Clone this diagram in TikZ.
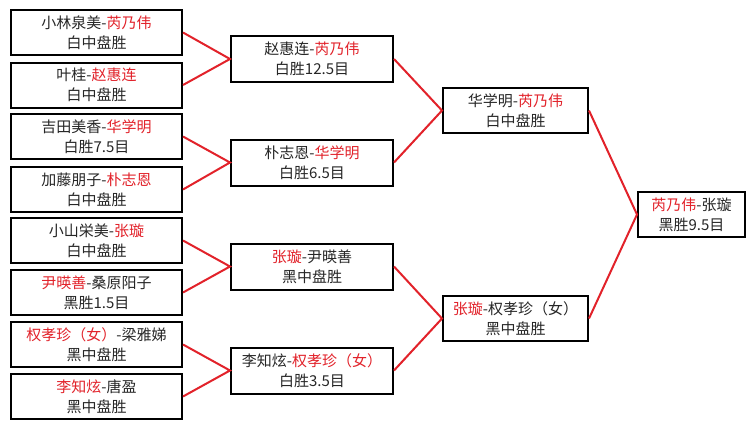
\documentclass[tikz,border=0pt]{standalone}
\usepackage{fontspec}
\setmainfont{Noto Sans CJK SC}
\definecolor{mred}{RGB}{226,34,42}
\newcommand{\rt}[1]{\textcolor{mred}{#1}}
\tikzset{
  pbox/.style={draw=black, line width=2pt, fill=white, inner sep=0pt,
    align=center, font=\fontsize{15pt}{20pt}\selectfont, text=black!85},
  r1box/.style={pbox, minimum width=171pt, minimum height=45pt},
  r2box/.style={pbox, minimum width=162pt, minimum height=46pt},
  r3box/.style={pbox, minimum width=145pt, minimum height=45pt},
  r4box/.style={pbox, minimum width=107pt, minimum height=45pt},
  link/.style={draw=mred, line width=2pt}
}
\begin{document}
\begin{tikzpicture}[x=1pt,y=-1pt]
\fill[white] (0,0) rectangle (755,429);
\useasboundingbox (0,0) rectangle (755,429);
% round 1
\node[r1box] (p1) at (96.5,32.5)  {小林泉美-\rt{芮乃伟}\\白中盘胜};
\node[r1box] (p2) at (96.5,85)    {叶桂-\rt{赵惠连}\\白中盘胜};
\node[r1box] (p3) at (96.5,136.5) {吉田美香-\rt{华学明}\\白胜7.5目};
\node[r1box] (p4) at (96.5,189.5) {加藤朋子-\rt{朴志恩}\\白中盘胜};
\node[r1box] (p5) at (96.5,240.5) {小山栄美-\rt{张璇}\\白中盘胜};
\node[r1box] (p6) at (96.5,292.5) {\rt{尹暎善}-桑原阳子\\黑胜1.5目};
\node[r1box] (p7) at (96.5,344.5) {\rt{权孝珍（女）}-梁雅娣\\黑中盘胜};
\node[r1box] (p8) at (96.5,396.5) {\rt{李知炫}-唐盈\\黑中盘胜};
% round 2
\node[r2box] (q1) at (312,59)    {赵惠连-\rt{芮乃伟}\\白胜12.5目};
\node[r2box] (q2) at (312,162.5) {朴志恩-\rt{华学明}\\白胜6.5目};
\node[r2box] (q3) at (312,266.5) {\rt{张璇}-尹暎善\\黑中盘胜};
\node[r2box] (q4) at (312,370.5) {李知炫-\rt{权孝珍（女）}\\白胜3.5目};
% semi-finals
\node[r3box] (s1) at (515.5,110.5) {华学明-\rt{芮乃伟}\\白中盘胜};
\node[r3box] (s2) at (515.5,318.5) {\rt{张璇}-权孝珍（女）\\黑中盘胜};
% final
\node[r4box] (f) at (691.5,214.5) {\rt{芮乃伟}-张璇\\黑胜9.5目};
% connectors
\draw[link] (p1.east) -- (q1.west) -- (p2.east);
\draw[link] (p3.east) -- (q2.west) -- (p4.east);
\draw[link] (p5.east) -- (q3.west) -- (p6.east);
\draw[link] (p7.east) -- (q4.west) -- (p8.east);
\draw[link] (q1.east) -- (s1.west) -- (q2.east);
\draw[link] (q3.east) -- (s2.west) -- (q4.east);
\draw[link] (s1.east) -- (f.west) -- (s2.east);
\end{tikzpicture}
\end{document}
